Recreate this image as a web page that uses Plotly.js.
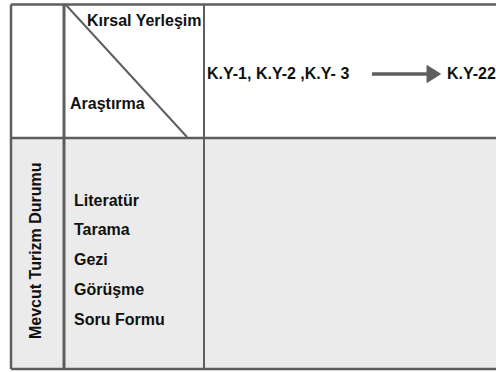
<!DOCTYPE html>
<html>
<head>
<meta charset="utf-8">
<script src="https://cdn.plot.ly/plotly-3.0.1.min.js"></script>
<style>html,body{margin:0;padding:0;background:#fff;}#chart{width:496px;height:372px;}</style>
</head>
<body>
<div id="chart"></div>
<script>
// ---- content ----
const headerTop = "Kırsal Yerleşim";
const headerBottom = "Araştırma";
const settlementsFrom = "K.Y-1, K.Y-2 ,K.Y- 3";
const settlementsTo = "K.Y-22";
const rowGroup = "Mevcut Turizm Durumu";
const methods = ["Literatür", "Tarama", "Gezi", "Görüşme", "Soru Formu"];

const LINE = "#5e5e5e";
const FILL = "#ebebeb";
const TXT = "#111111";
const FONT = {family: "Liberation Sans, Arial, sans-serif", size: 16, color: TXT, weight: 700};

const shapes = [
  // bottom row fill
  {type: "rect", x0: 11, x1: 497, y0: 138, y1: 369, fillcolor: FILL, line: {width: 0}, layer: "below"},
  // outer border
  {type: "line", x0: 11, x1: 497, y0: 4.5, y1: 4.5, line: {color: LINE, width: 2.5}},
  {type: "line", x0: 11, x1: 497, y0: 369, y1: 369, line: {color: LINE, width: 2.5}},
  {type: "line", x0: 11, x1: 11, y0: 4.5, y1: 369, line: {color: LINE, width: 2.5}},
  // column dividers
  {type: "line", x0: 64, x1: 64, y0: 4.5, y1: 369, line: {color: LINE, width: 3}},
  {type: "line", x0: 204, x1: 204, y0: 4.5, y1: 369, line: {color: LINE, width: 2}},
  // row divider
  {type: "line", x0: 11, x1: 497, y0: 138, y1: 138, line: {color: LINE, width: 2.5}},
  // diagonal in header cell
  {type: "line", x0: 66, x1: 187, y0: 5, y1: 137, line: {color: LINE, width: 2}},
  // arrow shaft + head
  {type: "line", x0: 372, x1: 429, y0: 74, y1: 74, line: {color: LINE, width: 3.5}},
  {type: "path", path: "M 427 65.5 L 440.5 74 L 427 82.5 Z", fillcolor: LINE, line: {color: LINE, width: 1}}
];

const annotations = [
  {text: headerTop, x: 203, y: 20, xanchor: "right", yanchor: "middle"},
  {text: headerBottom, x: 68, y: 103, xanchor: "left", yanchor: "middle"},
  {text: settlementsFrom, x: 205, y: 73.5, xanchor: "left", yanchor: "middle"},
  {text: settlementsTo, x: 445, y: 73.5, xanchor: "left", yanchor: "middle"},
  {text: rowGroup, x: 35, y: 251, xanchor: "center", yanchor: "middle", textangle: -90}
];
methods.forEach((m, i) => {
  annotations.push({text: m, x: 72, y: 200 + i * 29.8, xanchor: "left", yanchor: "middle"});
});
annotations.forEach(a => {
  a.xref = "x"; a.yref = "y"; a.showarrow = false; a.font = FONT;
});

const layout = {
  width: 496, height: 372,
  margin: {l: 0, r: 0, t: 0, b: 0},
  paper_bgcolor: "#ffffff", plot_bgcolor: "#ffffff",
  xaxis: {range: [0, 496], visible: false, fixedrange: true},
  yaxis: {range: [372, 0], visible: false, fixedrange: true},
  showlegend: false,
  shapes: shapes,
  annotations: annotations
};

Plotly.newPlot("chart", [], layout, {displayModeBar: false, staticPlot: true});
</script>
</body>
</html>
